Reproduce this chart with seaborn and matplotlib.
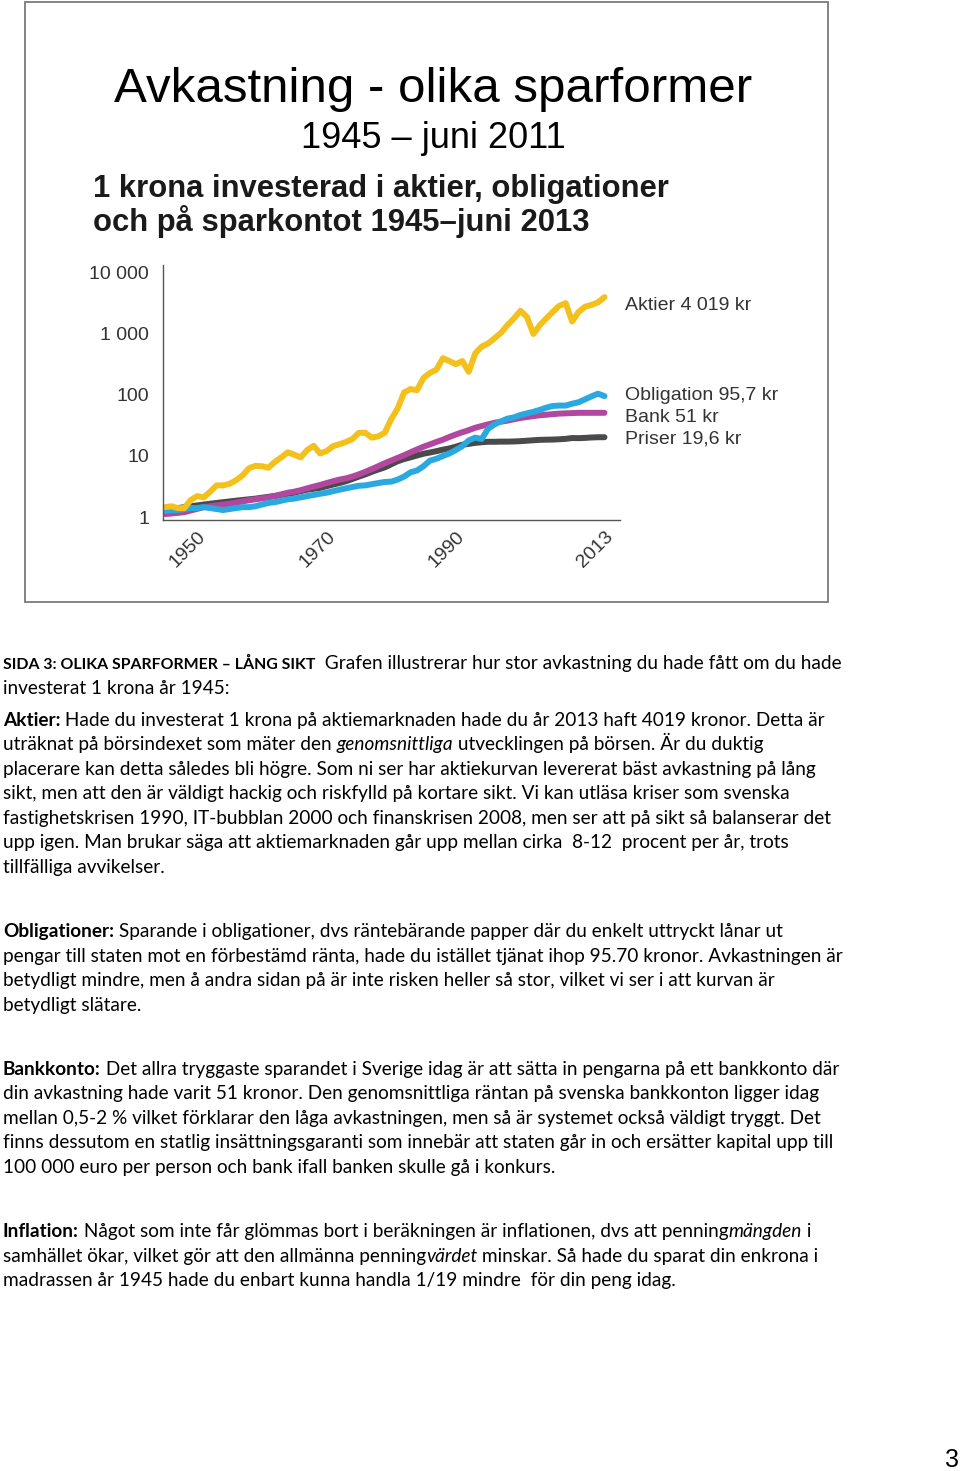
import seaborn as sns
import matplotlib.pyplot as plt
from matplotlib.patches import Rectangle
import numpy as np
import pandas as pd

# data (1 krona invested 1945)
years = list(range(1945, 2014))
aktier = [1.45, 1.5, 1.4, 1.4, 1.9, 2.2, 2.1, 2.6, 3.3, 3.3,
          3.5, 4.0, 4.8, 6.3, 6.9, 6.8, 6.4, 8.0, 9.5, 11.5,
          10.5, 9.5, 12.5, 14.7, 11.0, 12.0, 14.5, 15.6, 17.0, 19.0,
          24.0, 24.0, 20.0, 21.0, 24.0, 40.0, 60.0, 110.0, 125.0, 120.0,
          190, 230, 260, 400, 360, 320, 360, 240, 480, 620,
          700, 850, 1050, 1400, 1800, 2400, 1900, 1000, 1400, 1800,
          2300, 2900, 3200, 1600, 2300, 2800, 3000, 3300, 4019]
obligation = [1.25, 1.3, 1.3, 1.35, 1.4, 1.4, 1.45, 1.4, 1.35, 1.3,
              1.35, 1.4, 1.45, 1.45, 1.5, 1.6, 1.7, 1.75, 1.85, 1.95,
              2.0, 2.1, 2.2, 2.3, 2.4, 2.5, 2.65, 2.8, 2.95, 3.1,
              3.25, 3.3, 3.45, 3.6, 3.75, 3.8, 4.1, 4.6, 5.4, 5.8,
              6.8, 8.4, 9.0, 10.0, 11.0, 12.5, 14.5, 18.0, 20.0, 19.0,
              28, 33, 37, 41, 43, 47, 50, 53, 57, 62,
              66, 67, 67, 72, 76, 85, 95, 105, 95.7]
bank = [1.12, 1.14, 1.17, 1.2, 1.28, 1.36, 1.45, 1.5, 1.55, 1.6,
        1.65, 1.72, 1.8, 1.88, 1.95, 2.02, 2.1, 2.2, 2.35, 2.5,
        2.6, 2.75, 2.95, 3.15, 3.35, 3.6, 3.85, 4.1, 4.3, 4.6,
        5.0, 5.5, 6.1, 6.8, 7.6, 8.4, 9.3, 10.3, 11.5, 12.8,
        14.2, 15.5, 17.0, 18.5, 20.5, 22.5, 24.5, 26.5, 29, 31,
        33, 35, 36.5, 38, 40, 42, 43.5, 45, 46.5, 47.5,
        48.5, 49.5, 50, 50.5, 51, 51, 51, 51, 51]
priser = [1.3, 1.35, 1.4, 1.45, 1.5, 1.55, 1.6, 1.65, 1.7, 1.75,
          1.8, 1.85, 1.9, 1.95, 2.0, 2.07, 2.14, 2.22, 2.3, 2.4,
          2.5, 2.65, 2.8, 2.9, 3.0, 3.2, 3.4, 3.6, 3.85, 4.2,
          4.6, 5.0, 5.5, 6.0, 6.5, 7.3, 8.2, 8.9, 9.5, 10.2,
          10.9, 11.4, 12.0, 12.7, 13.3, 14.2, 15.3, 15.8, 16.4, 16.8,
          17.1, 17.1, 17.2, 17.2, 17.3, 17.5, 17.8, 18.1, 18.4, 18.5,
          18.6, 18.8, 19.1, 19.7, 19.6, 19.8, 20.1, 20.3, 20.3]

series_names = ['Priser', 'Bank', 'Obligation', 'Aktier']
series_labels = ['Aktier 4 019 kr', 'Obligation 95,7 kr', 'Bank 51 kr', 'Priser 19,6 kr']
colors = {'Priser': '#4a4a4a', 'Bank': '#b2479f', 'Obligation': '#2aa9e0', 'Aktier': '#f4c01c'}
ytick_vals = [1, 10, 100, 1000, 10000]
ytick_labels = ['1', '10', '100', '1 000', '10 000']
xtick_vals = [1950, 1970, 1990, 2013]

df = pd.DataFrame({'år': years, 'Priser': priser, 'Bank': bank,
                   'Obligation': obligation, 'Aktier': aktier})
long_df = df.melt(id_vars='år', var_name='serie', value_name='kr')

sns.set_style('white')
plt.rcParams['font.family'] = ['Liberation Sans', 'DejaVu Sans']

W, H = 960, 1471
fig = plt.figure(figsize=(W / 100, H / 100), dpi=100)

def fx(x):
    return x / W

def fy(y):
    return 1 - y / H

# slide frame
fig.patches.append(Rectangle((fx(25), fy(602)), fx(828) - fx(25), fy(2) - fy(602),
                             transform=fig.transFigure, fill=False,
                             edgecolor='#7a7a7a', linewidth=1.3))

fig.text(fx(433), fy(90), 'Avkastning - olika sparformer', fontsize=35.5,
         ha='center', va='center', color='black')
fig.text(fx(433), fy(139), '1945 – juni 2011', fontsize=26,
         ha='center', va='center', color='black')
fig.text(fx(93), fy(189), '1 krona investerad i aktier, obligationer', fontsize=22.3,
         fontweight='bold', ha='left', va='center', color='#1a1a1a')
fig.text(fx(93), fy(221), 'och på sparkontot 1945–juni 2013', fontsize=22.3,
         fontweight='bold', ha='left', va='center', color='#1a1a1a')

# chart
ax = fig.add_axes([fx(163), fy(520), fx(620) - fx(163), fy(265) - fy(520)])
sns.lineplot(data=long_df, x='år', y='kr', hue='serie', hue_order=series_names,
             palette=colors, linewidth=4.3, legend=False, ax=ax)
ax.set_yscale('log')
ax.set_ylim(0.893, 13500)
ax.set_xlim(1944.7, 2015.4)
ax.set_yticks(ytick_vals)
ax.set_yticklabels(ytick_labels)
ax.minorticks_off()
ax.set_xticks(xtick_vals)
ax.set_xticklabels([str(v) for v in xtick_vals], rotation=45, ha='right',
                   rotation_mode='anchor')
ax.tick_params(axis='both', length=0, labelsize=14, labelcolor='#333333')
ax.tick_params(axis='y', pad=10)
ax.tick_params(axis='x', pad=6)
ax.set_xlabel('')
ax.set_ylabel('')
ax.patch.set_alpha(0)
for s in ['top', 'right']:
    ax.spines[s].set_visible(False)
for s in ['left', 'bottom']:
    ax.spines[s].set_color('#555555')
    ax.spines[s].set_linewidth(1.0)

label_y = [306, 396, 417, 439]
for lab, yy in zip(series_labels, label_y):
    fig.text(fx(625), fy(yy), lab, fontsize=14, color='#333333', va='center')

# text below the slide, drawn in runs so bold / italic words sit inline
renderer = fig.canvas.get_renderer()
body = ['Lato', 'DejaVu Sans']
body_size = 13.7

def run_width(txt, size, **kw):
    a = fig.text(0, 0, 'X' + txt + 'X', fontsize=size, family=body, **kw)
    b = fig.text(0, 0, 'XX', fontsize=size, family=body, **kw)
    w = a.get_window_extent(renderer).width - b.get_window_extent(renderer).width
    a.remove()
    b.remove()
    return w

def line(y, parts):
    x = 3
    for p in parts:
        if isinstance(p, str):
            p = (p, 'normal', 'normal', body_size)
        elif len(p) == 3:
            p = p + (body_size,)
        txt, wt, st, size = p
        fig.text(fx(x), fy(y), txt, fontsize=size, family=body,
                 fontweight=wt, fontstyle=st, va='baseline', color='black')
        x += run_width(txt, size, fontweight=wt, fontstyle=st)

B = 'bold'
lines = [
    (669, [('SIDA 3: OLIKA SPARFORMER – LÅNG SIKT', B, 'normal', 11.4),
           '  Grafen illustrerar hur stor avkastning du hade fått om du hade']),
    (694, ['investerat 1 krona år 1945:']),
    (726, [('Aktier:', B, 'normal'),
           ' Hade du investerat 1 krona på aktiemarknaden hade du år 2013 haft 4019 kronor. Detta är']),
    (750, ['uträknat på börsindexet som mäter den ', ('genomsnittliga', 'normal', 'italic'),
           ' utvecklingen på börsen. Är du duktig']),
    (775, ['placerare kan detta således bli högre. Som ni ser har aktiekurvan levererat bäst avkastning på lång']),
    (799, ['sikt, men att den är väldigt hackig och riskfylld på kortare sikt. Vi kan utläsa kriser som svenska']),
    (824, ['fastighetskrisen 1990, IT-bubblan 2000 och finanskrisen 2008, men ser att på sikt så balanserar det']),
    (848, ['upp igen. Man brukar säga att aktiemarknaden går upp mellan cirka  8-12  procent per år, trots']),
    (873, ['tillfälliga avvikelser.']),
    (937, [('Obligationer:', B, 'normal'),
           ' Sparande i obligationer, dvs räntebärande papper där du enkelt uttryckt lånar ut']),
    (962, ['pengar till staten mot en förbestämd ränta, hade du istället tjänat ihop 95.70 kronor. Avkastningen är']),
    (986, ['betydligt mindre, men å andra sidan på är inte risken heller så stor, vilket vi ser i att kurvan är']),
    (1011, ['betydligt slätare.']),
    (1075, [('Bankkonto:', B, 'normal'),
            ' Det allra tryggaste sparandet i Sverige idag är att sätta in pengarna på ett bankkonto där']),
    (1099, ['din avkastning hade varit 51 kronor. Den genomsnittliga räntan på svenska bankkonton ligger idag']),
    (1124, ['mellan 0,5-2 % vilket förklarar den låga avkastningen, men så är systemet också väldigt tryggt. Det']),
    (1148, ['finns dessutom en statlig insättningsgaranti som innebär att staten går in och ersätter kapital upp till']),
    (1173, ['100 000 euro per person och bank ifall banken skulle gå i konkurs.']),
    (1237, [('Inflation:', B, 'normal'),
            ' Något som inte får glömmas bort i beräkningen är inflationen, dvs att penning',
            ('mängden', 'normal', 'italic'), ' i']),
    (1262, ['samhället ökar, vilket gör att den allmänna penning', ('värdet', 'normal', 'italic'),
            ' minskar. Så hade du sparat din enkrona i']),
    (1286, ['madrassen år 1945 hade du enbart kunna handla 1/19 mindre  för din peng idag.']),
]
for yy, parts in lines:
    line(yy, parts)

fig.text(fx(952), fy(1460), '3', fontsize=18, ha='center', va='center', color='black')

fig.savefig('out.png', dpi=100)
